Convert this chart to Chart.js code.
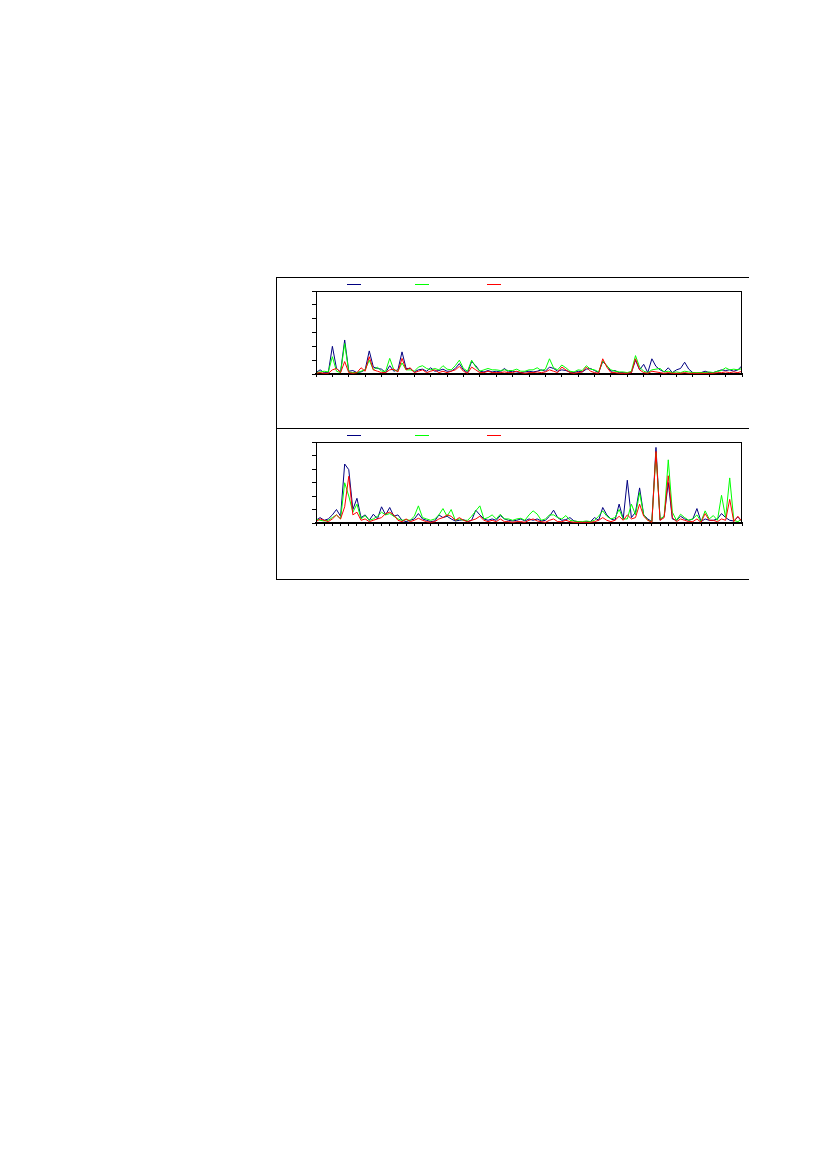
<!DOCTYPE html>
<html>
<head>
<meta charset="utf-8">
<script src="https://cdn.jsdelivr.net/npm/chart.js@4/dist/chart.umd.min.js"></script>
<style>
  body { margin: 0; background: #fff; }
  #box { position: absolute; left: 276px; top: 277px; width: 472px; height: 301px;
         border-left: 1px solid #000; border-top: 1px solid #000; border-bottom: 1px solid #000; }
  #divider { position: absolute; left: 276px; top: 428px; width: 473px; height: 1px; background: #000; }
  canvas { position: absolute; }
</style>
</head>
<body>
<div id="box"></div>
<div id="divider"></div>
<canvas id="top" width="471" height="150" style="left:277px;top:278px"></canvas>
<canvas id="bottom" width="471" height="150" style="left:277px;top:429px"></canvas>
<script>
// sample index along the x axis
var steps = [];
for (var i = 0; i <= 104; i++) steps.push(i);

// upper panel
var topBlue = [0.1,0.3,0.1,0.1,2.0,0.4,0.15,2.46,0.2,0.25,0.1,0.15,0.3,1.67,0.5,0.4,0.35,0.1,0.6,0.2,
  0.3,1.6,0.4,0.4,0.15,0.3,0.35,0.2,0.45,0.2,0.25,0.35,0.2,0.2,0.4,0.75,0.3,0.1,0.9,0.6,
  0.2,0.15,0.25,0.15,0.2,0.15,0.4,0.15,0.2,0.15,0.1,0.15,0.2,0.15,0.2,0.3,0.2,0.5,0.4,0.2,
  0.3,0.25,0.15,0.1,0.2,0.15,0.35,0.4,0.25,0.1,0.9,0.6,0.2,0.25,0.1,0.1,0.05,0.1,1.0,0.3,
  0.7,0.1,1.1,0.55,0.3,0.15,0.45,0.1,0.3,0.4,0.85,0.35,0.1,0.05,0.1,0.2,0.1,0.1,0.2,0.3,
  0.25,0.3,0.2,0.3,0.6];
var topGreen = [0.1,0.15,0.2,0.15,1.25,0.2,0.1,2.2,0.15,0.1,0.1,0.2,0.3,1.0,0.3,0.5,0.2,0.2,1.13,0.3,
  0.2,0.8,0.3,0.3,0.2,0.5,0.6,0.4,0.3,0.4,0.3,0.6,0.35,0.3,0.6,1.0,0.4,0.2,1.0,0.5,
  0.2,0.3,0.4,0.3,0.3,0.25,0.3,0.25,0.25,0.35,0.2,0.2,0.3,0.3,0.45,0.25,0.35,1.1,0.45,0.3,
  0.65,0.45,0.2,0.15,0.3,0.25,0.6,0.35,0.3,0.15,0.95,0.6,0.3,0.2,0.15,0.15,0.1,0.2,1.33,0.5,
  0.2,0.1,0.3,0.35,0.4,0.15,0.2,0.1,0.15,0.1,0.2,0.15,0.1,0.1,0.1,0.1,0.15,0.1,0.2,0.25,
  0.45,0.3,0.35,0.3,0.4];
var topRed = [0.05,0.1,0.05,0.05,0.3,0.4,0.1,0.9,0.1,0.05,0.1,0.45,0.2,1.25,0.3,0.2,0.1,0.1,0.3,0.35,
  0.15,1.13,0.3,0.45,0.1,0.2,0.3,0.1,0.2,0.3,0.1,0.2,0.1,0.2,0.3,0.55,0.2,0.05,0.5,0.3,
  0.1,0.1,0.2,0.1,0.1,0.1,0.15,0.1,0.1,0.2,0.1,0.05,0.1,0.1,0.15,0.1,0.15,0.3,0.2,0.1,
  0.5,0.3,0.1,0.05,0.1,0.15,0.5,0.2,0.1,0.05,1.1,0.5,0.1,0.1,0.05,0.05,0.05,0.1,1.1,0.3,
  0.1,0.05,0.2,0.15,0.1,0.05,0.1,0.05,0.05,0.05,0.1,0.05,0.05,0.05,0.05,0.05,0.05,0.05,0.1,0.1,
  0.15,0.1,0.15,0.1,0.2];

// lower panel
var botBlue = [0.2,0.4,0.2,0.3,0.6,1.0,0.5,4.37,3.95,1.0,1.83,0.4,0.6,0.2,0.65,0.3,1.2,0.6,1.15,0.5,
  0.6,0.2,0.1,0.2,0.3,0.7,0.3,0.2,0.1,0.15,0.6,0.4,0.5,0.3,0.15,0.2,0.25,0.1,0.2,0.95,
  0.6,0.3,0.2,0.3,0.2,0.55,0.3,0.2,0.15,0.2,0.3,0.15,0.3,0.2,0.3,0.15,0.2,0.5,0.95,0.4,
  0.2,0.25,0.4,0.15,0.1,0.05,0.1,0.1,0.4,0.2,1.15,0.6,0.3,0.2,1.4,0.3,3.17,0.4,0.8,2.6,
  0.6,0.3,0.1,5.6,0.2,0.5,3.0,0.3,0.2,0.5,0.3,0.2,0.3,1.07,0.1,0.3,0.2,0.2,0.3,0.7,
  0.4,0.2,0.15,0.45,0.1];
var botGreen = [0.3,0.2,0.15,0.2,0.4,0.6,0.3,2.98,2.0,0.8,1.4,0.3,0.55,0.2,0.3,0.5,0.8,0.6,0.7,0.5,
  0.3,0.2,0.25,0.2,0.5,1.27,0.4,0.3,0.2,0.3,0.6,1.07,0.5,1.0,0.2,0.3,0.2,0.2,0.5,0.9,
  1.27,0.3,0.4,0.6,0.3,0.65,0.3,0.3,0.2,0.3,0.35,0.2,0.6,0.9,0.66,0.2,0.3,0.6,0.6,0.4,
  0.3,0.55,0.2,0.15,0.1,0.1,0.15,0.1,0.2,0.5,0.9,0.5,0.3,0.4,1.0,0.3,0.3,1.4,0.6,2.25,
  0.6,0.2,0.1,5.2,0.3,0.5,4.68,0.8,0.2,0.65,0.4,0.2,0.3,0.6,0.1,0.9,0.3,0.55,0.2,2.05,
  0.4,3.34,0.2,0.1,0.3];
var botRed = [0.1,0.3,0.2,0.1,0.3,0.6,0.3,1.2,3.46,0.6,0.8,0.2,0.3,0.1,0.2,0.3,0.4,0.7,0.8,0.6,
  0.2,0.1,0.3,0.1,0.2,0.35,0.2,0.1,0.05,0.1,0.3,0.4,0.6,0.5,0.2,0.4,0.2,0.1,0.2,0.3,
  0.5,0.2,0.1,0.2,0.1,0.3,0.1,0.1,0.05,0.1,0.1,0.05,0.2,0.3,0.15,0.1,0.05,0.2,0.3,0.1,
  0.1,0.2,0.1,0.05,0.05,0.05,0.05,0.05,0.1,0.2,0.4,0.2,0.1,0.2,0.5,0.2,0.6,0.3,0.4,1.4,
  0.5,0.2,0.05,5.3,0.2,0.4,3.5,0.4,0.1,0.3,0.2,0.1,0.1,0.3,0.05,0.7,0.2,0.2,0.1,0.3,
  0.2,1.75,0.1,0.5,0.1];

var colors = ['#000080', '#00ff00', '#ff0000'];

// frame round the plot + little legend strokes (legend has no readable text)
var framePlugin = {
  id: 'frame',
  afterDraw: function(chart) {
    var a = chart.chartArea, c = chart.ctx;
    c.save();
    c.strokeStyle = '#000';
    c.lineWidth = 1;
    c.strokeRect(a.left + 0.5, a.top + 0.5, a.right - a.left - 1, a.bottom - a.top);
    var offs = [31, 99, 171];
    chart.data.datasets.forEach(function(ds, k) {
      c.strokeStyle = ds.borderColor;
      c.beginPath();
      c.moveTo(a.left + offs[k], a.top - 6.5);
      c.lineTo(a.left + offs[k] + 14, a.top - 6.5);
      c.stroke();
    });
    c.restore();
  }
};

function pts(vals) {
  return vals.map(function(v, i) { return { x: steps[i], y: v }; });
}

function makeChart(id, series, xStep, padBottom) {
  var ctx = document.getElementById(id).getContext('2d');
  return new Chart(ctx, {
    type: 'line',
    data: {
      datasets: series.map(function(s, k) {
        return {
          data: pts(s),
          borderColor: colors[k],
          borderWidth: 1,
          pointRadius: 0,
          tension: 0,
          fill: false,
          order: 3 - k
        };
      })
    },
    options: {
      responsive: false,
      animation: false,
      devicePixelRatio: 1,
      layout: { padding: { left: 35, top: 13, right: 6, bottom: padBottom } },
      plugins: { legend: { display: false }, tooltip: { enabled: false } },
      scales: {
        x: {
          type: 'linear', min: 0, max: 104,
          ticks: { display: false, stepSize: xStep },
          grid: { drawOnChartArea: false, color: '#000', tickLength: 3 },
          border: { display: true, color: '#000', width: 2 },
          afterFit: function(s) { s.height = 3; }
        },
        y: {
          min: 0, max: 6,
          ticks: { display: false, stepSize: 1 },
          grid: { drawOnChartArea: false, color: '#000', tickLength: 4 },
          border: { display: true, color: '#000', width: 1 },
          afterFit: function(s) { s.width = 4; }
        }
      }
    },
    plugins: [framePlugin]
  });
}

makeChart('top', [topBlue, topGreen, topRed], 4, 51);
makeChart('bottom', [botBlue, botGreen, botRed], 2, 53);
</script>
</body>
</html>
